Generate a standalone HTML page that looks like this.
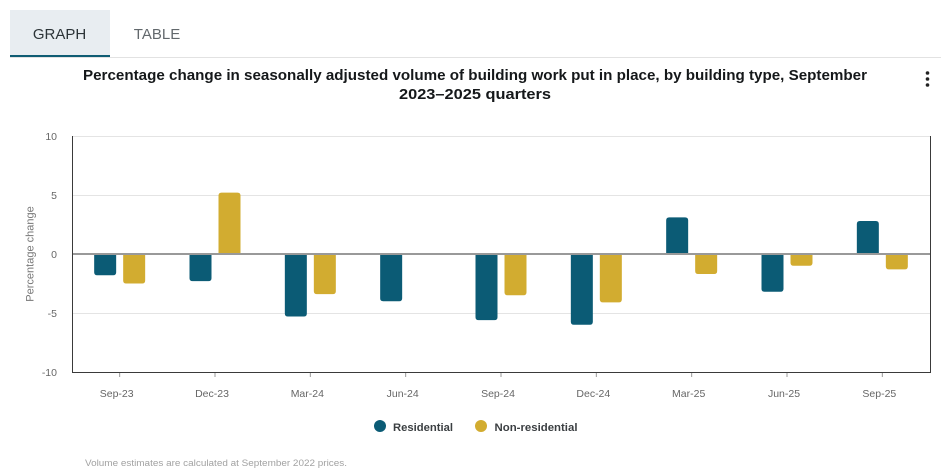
<!DOCTYPE html>
<html lang="en">
<head>
<meta charset="utf-8">
<title>Building work chart</title>
<style>
html,body{margin:0;padding:0;background:#fff;width:941px;height:471px;overflow:hidden;}
svg{display:block;font-family:"Liberation Sans",sans-serif;}
</style>
</head>
<body>
<svg id="chart" width="941" height="471" viewBox="0 0 941 471">
  <rect x="10" y="10" width="100" height="46" fill="#e8edf1"/>
  <line x1="10" y1="57.5" x2="941" y2="57.5" stroke="#e2e2e2" stroke-width="1"/>
  <rect x="10" y="55" width="100" height="2" fill="#0f5c73"/>
  <text x="59.5" y="39" text-anchor="middle" font-size="15" fill="#2c3438">GRAPH</text>
  <text x="157" y="39" text-anchor="middle" font-size="15" fill="#62686c">TABLE</text>
  <text x="475" y="80" text-anchor="middle" font-size="15" font-weight="700" fill="#15181a" textLength="784" lengthAdjust="spacingAndGlyphs">Percentage change in seasonally adjusted volume of building work put in place, by building type, September</text>
  <text x="475" y="99" text-anchor="middle" font-size="15" font-weight="700" fill="#15181a" textLength="152" lengthAdjust="spacingAndGlyphs">2023–2025 quarters</text>
  <g fill="#222">
    <circle cx="927.5" cy="73" r="1.8"/>
    <circle cx="927.5" cy="79" r="1.8"/>
    <circle cx="927.5" cy="85" r="1.8"/>
  </g>
  <g id="grid"></g>
  <g id="bars"></g>
  <g id="axes"></g>
  <text transform="translate(33.5 254) rotate(-90)" text-anchor="middle" font-size="11" fill="#777">Percentage change</text>
  <circle cx="380" cy="426" r="6" fill="#0b5b75"/>
  <text x="393" y="431" font-size="11" font-weight="700" fill="#3b3f42" textLength="60" lengthAdjust="spacingAndGlyphs">Residential</text>
  <circle cx="481" cy="426" r="6" fill="#d2ac30"/>
  <text x="494.5" y="431" font-size="11" font-weight="700" fill="#3b3f42" textLength="83" lengthAdjust="spacingAndGlyphs">Non-residential</text>
  <text x="85" y="466" font-size="9" fill="#a2a2a2" textLength="262" lengthAdjust="spacingAndGlyphs">Volume estimates are calculated at September 2022 prices.</text>
</svg>
<script>
const categories = ['Sep-23','Dec-23','Mar-24','Jun-24','Sep-24','Dec-24','Mar-25','Jun-25','Sep-25'];
const residential = [-1.8,-2.3,-5.3,-4.0,-5.6,-6.0,3.1,-3.2,2.8];
const nonResidential = [-2.5,5.2,-3.4,0,-3.5,-4.1,-1.7,-1.0,-1.3];
const yTicks = [10,5,0,-5,-10];

const NS = 'http://www.w3.org/2000/svg';
const plotLeft = 72.5, plotRight = 930.5, plotTop = 136, plotBottom = 372;
const yMin = -10, yMax = 10;
function yScale(v){ return plotBottom - (v - yMin) / (yMax - yMin) * (plotBottom - plotTop); }
function xCenter(i){ return plotLeft + (i + 0.5) * (plotRight - plotLeft) / categories.length - 0.5; }
function make(tag, attrs, parent){
  const el = document.createElementNS(NS, tag);
  for (const k in attrs) el.setAttribute(k, attrs[k]);
  parent.appendChild(el);
  return el;
}
const grid = document.getElementById('grid');
const bars = document.getElementById('bars');
const axes = document.getElementById('axes');

yTicks.forEach(function(t){
  const y = yScale(t);
  if (t !== 0 && t !== yMin) {
    const g = make('line', {x1: plotLeft, x2: plotRight, y1: y + 0.5, y2: y + 0.5, stroke: '#e4e4e4', 'stroke-width': 1}, grid);
    
    
  }
  const lab = make('text', {x: 57, y: y + 4, 'text-anchor': 'end', 'font-size': 10.5, fill: '#666'}, axes);
  lab.textContent = String(t);
  
  
});

function bar(v, x, color, name){
  if (!v) return;
  const w = 22, r = 3;
  const y0 = yScale(0), y1 = yScale(v);
  const s = v < 0 ? 1 : -1;
  const d = 'M' + x + ' ' + y0 + 'V' + (y1 - s * r) +
    'Q' + x + ' ' + y1 + ' ' + (x + r) + ' ' + y1 +
    'H' + (x + w - r) +
    'Q' + (x + w) + ' ' + y1 + ' ' + (x + w) + ' ' + (y1 - s * r) +
    'V' + y0 + 'Z';
  const el = make('path', {d: d, fill: color}, bars);
  
  
}
categories.forEach(function(c, i){
  const cx = xCenter(i);
  bar(residential[i], cx - 25.5, '#0b5b75', 'bar-residential-' + c.toLowerCase());
  bar(nonResidential[i], cx + 3.5, '#d2ac30', 'bar-non-residential-' + c.toLowerCase());
  const tick = make('line', {x1: cx, x2: cx, y1: plotBottom, y2: plotBottom + 5, stroke: '#999', 'stroke-width': 1}, axes);
  
  
  const lab = make('text', {x: cx - 3, y: plotBottom + 25, 'text-anchor': 'middle', 'font-size': 10.5, fill: '#666'}, axes);
  lab.textContent = c;
  
  
});

const topLine = make('line', {x1: plotLeft, x2: plotRight, y1: plotTop + 0.5, y2: plotTop + 0.5, stroke: '#e4e4e4', 'stroke-width': 1}, grid);


const zero = make('line', {x1: plotLeft, x2: plotRight, y1: yScale(0), y2: yScale(0), stroke: '#999', 'stroke-width': 2}, axes);


const frame = make('path', {d: 'M' + plotLeft + ' ' + plotTop + 'V' + (plotBottom + 0.5) + 'H' + plotRight + 'V' + plotTop, fill: 'none', stroke: '#3a3a3a', 'stroke-width': 1}, axes);


</script>
</body>
</html>
